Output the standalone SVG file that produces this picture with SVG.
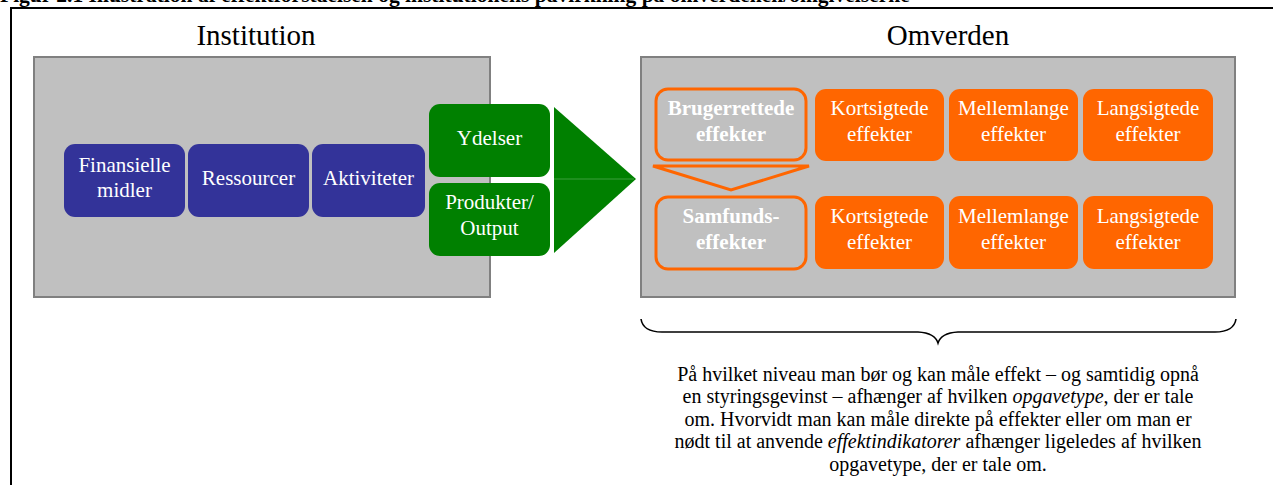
<svg xmlns="http://www.w3.org/2000/svg" width="1273" height="485" viewBox="0 0 1273 485" font-family="'Liberation Serif', 'Tinos', 'DejaVu Serif', serif">
  <style>
    text { font-family: "Liberation Serif", "Tinos", "DejaVu Serif", serif; }
    .panel { fill: #c0c0c0; stroke: #808080; stroke-width: 2; }
    .head { font-size: 29px; fill: #000; text-anchor: middle; }
    .lbl { font-size: 21px; fill: #fff; text-anchor: middle; }
    .bold { font-weight: bold; }
    .blue { fill: #333399; }
    .green { fill: #008000; }
    .orange { fill: #ff6600; }
    .ring { fill: #c0c0c0; stroke: #ff6600; stroke-width: 3; }
    .note { font-size: 20px; fill: #000; text-anchor: middle; }
  </style>

  <rect width="1273" height="485" fill="#fff"/>

  <!-- caption, partly cut by the top edge -->
  <text x="0" y="2" class="bold" font-size="21.5" fill="#000">Figur 2.1 Illustration af effektforståelsen og institutionens påvirkning på omverdenen/omgivelserne</text>

  <!-- frame -->
  <g id="frame" stroke="#000" stroke-width="2" fill="none">
    <line x1="10" y1="8" x2="1273" y2="8"/>
    <line x1="11" y1="8" x2="11" y2="485"/>
  </g>

  <!-- section headings -->
  <text x="256" y="45" class="head">Institution</text>
  <text x="948" y="45" class="head">Omverden</text>

  <!-- panels -->
  <g id="institution">
    <rect x="34" y="57" width="456" height="240" class="panel"/>
  </g>
  <g id="omverden">
    <rect x="641" y="57" width="594" height="240" class="panel"/>
  </g>

  <!-- institution steps -->
  <g id="finansielle">
    <rect x="64" y="144" width="121" height="73" rx="11" class="blue"/>
    <text x="124.5" y="172" class="lbl">Finansielle</text>
    <text x="124.5" y="197" class="lbl">midler</text>
  </g>
  <g id="ressourcer">
    <rect x="188" y="144" width="121" height="73" rx="11" class="blue"/>
    <text x="248.5" y="185" class="lbl">Ressourcer</text>
  </g>
  <g id="aktiviteter">
    <rect x="312" y="144" width="113" height="73" rx="11" class="blue"/>
    <text x="368.5" y="185" class="lbl">Aktiviteter</text>
  </g>

  <!-- outputs -->
  <g id="ydelser">
    <rect x="429" y="104" width="121" height="73" rx="11" class="green"/>
    <text x="489.5" y="145" class="lbl">Ydelser</text>
  </g>
  <g id="produkter">
    <rect x="429" y="183" width="121" height="73" rx="11" class="green"/>
    <text x="489.5" y="209" class="lbl">Produkter/</text>
    <text x="489.5" y="235" class="lbl">Output</text>
  </g>

  <!-- arrow into the surroundings -->
  <g id="connectors">
    <polygon points="554,107 636,179 554,253" class="green"/>
    <line x1="554" y1="179" x2="634" y2="179" stroke="#4da64d" stroke-width="0.8"/>
    <polygon points="653,166 809,166 731,190" fill="#c0c0c0" stroke="#ff6600" stroke-width="3" stroke-linejoin="miter"/>
  </g>

  <!-- effect rows -->
  <g id="brugerrettede">
    <rect x="656" y="89" width="150" height="71" rx="12" class="ring"/>
    <text x="731" y="115" class="lbl bold">Brugerrettede</text>
    <text x="731" y="141" class="lbl bold">effekter</text>
  </g>
  <g id="samfunds">
    <rect x="656" y="197" width="150" height="72" rx="12" class="ring"/>
    <text x="731" y="223" class="lbl bold">Samfunds-</text>
    <text x="731" y="249" class="lbl bold">effekter</text>
  </g>

  <g id="kort1">
    <rect x="815" y="89" width="129" height="72" rx="11" class="orange"/>
    <text x="879.5" y="115" class="lbl">Kortsigtede</text>
    <text x="879.5" y="141" class="lbl">effekter</text>
  </g>
  <g id="mellem1">
    <rect x="949" y="89" width="129" height="72" rx="11" class="orange"/>
    <text x="1013.5" y="115" class="lbl">Mellemlange</text>
    <text x="1013.5" y="141" class="lbl">effekter</text>
  </g>
  <g id="lang1">
    <rect x="1083" y="89" width="130" height="72" rx="11" class="orange"/>
    <text x="1148" y="115" class="lbl">Langsigtede</text>
    <text x="1148" y="141" class="lbl">effekter</text>
  </g>

  <g id="kort2">
    <rect x="815" y="196" width="129" height="73" rx="11" class="orange"/>
    <text x="879.5" y="223" class="lbl">Kortsigtede</text>
    <text x="879.5" y="249" class="lbl">effekter</text>
  </g>
  <g id="mellem2">
    <rect x="949" y="196" width="129" height="73" rx="11" class="orange"/>
    <text x="1013.5" y="223" class="lbl">Mellemlange</text>
    <text x="1013.5" y="249" class="lbl">effekter</text>
  </g>
  <g id="lang2">
    <rect x="1083" y="196" width="130" height="73" rx="11" class="orange"/>
    <text x="1148" y="223" class="lbl">Langsigtede</text>
    <text x="1148" y="249" class="lbl">effekter</text>
  </g>

  <!-- brace under the surroundings panel -->
  <g id="brace">
    <path d="M641,319 Q643,332 662,332 L918,332 Q935,333 938,343 Q941,333 958,332 L1215,332 Q1234,332 1236,319" fill="none" stroke="#000" stroke-width="1.6"/>
  </g>

  <!-- explanatory note -->
  <g id="note" class="note">
    <text x="938" y="381">På hvilket niveau man bør og kan måle effekt – og samtidig opnå</text>
    <text x="938" y="403">en styringsgevinst – afhænger af hvilken <tspan font-style="italic">opgavetype</tspan>, der er tale</text>
    <text x="938" y="426">om. Hvorvidt man kan måle direkte på effekter eller om man er</text>
    <text x="938" y="448">nødt til at anvende <tspan font-style="italic">effektindikatorer</tspan> afhænger ligeledes af hvilken</text>
    <text x="938" y="471">opgavetype, der er tale om.</text>
  </g>
</svg>
